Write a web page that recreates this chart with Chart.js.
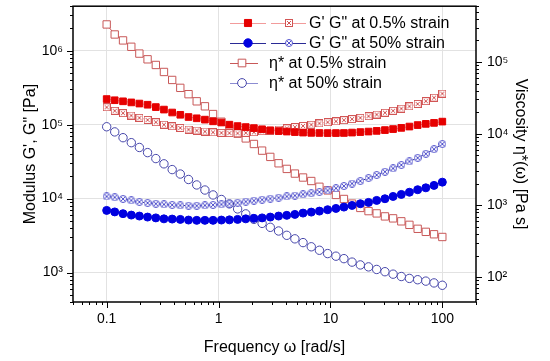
<!DOCTYPE html>
<html>
<head>
<meta charset="utf-8">
<script src="https://cdn.jsdelivr.net/npm/chart.js@4.4.0/dist/chart.umd.min.js"></script>
<style>
  html, body { margin: 0; padding: 0; background: #fff; }
  #wrap { width: 550px; height: 361px; }
</style>
</head>
<body>
<div id="wrap"><canvas id="chart" width="550" height="361"></canvas></div>
<script>
// frequency sweep, rad/s
const freq = [0.1, 0.118, 0.14, 0.166, 0.196, 0.232, 0.275, 0.325, 0.385, 0.455, 0.539, 0.638, 0.755, 0.893,
  1.06, 1.25, 1.48, 1.75, 2.07, 2.45, 2.9, 3.44, 4.07, 4.81, 5.69, 6.74, 7.97, 9.44,
  11.2, 13.2, 15.6, 18.5, 21.9, 25.9, 30.7, 36.3, 43, 50.8, 60.2, 71.2, 84.3, 100];

// G' and G" [Pa] at 0.5% strain
const gStorage05 = [2.22e5, 2.14e5, 2.07e5, 2.0e5, 1.93e5, 1.86e5, 1.73e5, 1.6e5, 1.46e5, 1.36e5, 1.27e5, 1.22e5, 1.17e5, 1.11e5,
  1.07e5, 1.0e5, 9.57e4, 9.28e4, 8.99e4, 8.67e4, 8.4e4, 8.19e4, 8.07e4, 7.94e4, 7.82e4, 7.75e4, 7.72e4, 7.7e4,
  7.7e4, 7.72e4, 7.82e4, 7.94e4, 8.07e4, 8.24e4, 8.45e4, 8.72e4, 9.05e4, 9.43e4, 9.88e4, 1.025e5, 1.057e5, 1.1e5];
const gLoss05 = [1.72e5, 1.54e5, 1.43e5, 1.33e5, 1.24e5, 1.16e5, 1.08e5, 1.0e5, 9.51e4, 9.05e4, 8.59e4, 8.33e4, 8.07e4, 7.87e4,
  7.75e4, 7.7e4, 7.65e4, 7.75e4, 7.89e4, 8.14e4, 8.33e4, 8.59e4, 8.94e4, 9.28e4, 9.63e4, 1.0e5, 1.04e5, 1.08e5,
  1.11e5, 1.15e5, 1.19e5, 1.24e5, 1.3e5, 1.37e5, 1.45e5, 1.54e5, 1.65e5, 1.77e5, 1.91e5, 2.08e5, 2.32e5, 2.63e5];

// G' and G" [Pa] at 50% strain
const gStorage50 = [6930, 6610, 6260, 5990, 5810, 5630, 5490, 5330, 5290, 5240, 5130, 5080, 5080, 5080,
  5130, 5160, 5240, 5330, 5410, 5490, 5630, 5810, 5940, 6120, 6370, 6570, 6780, 7080,
  7370, 7680, 8090, 8530, 8890, 9460, 9970, 10700, 11400, 12200, 13200, 14000, 15100, 16700];
const gLoss50 = [10700, 10400, 9910, 9460, 9030, 8750, 8530, 8350, 8220, 8090, 8020, 8020, 8090, 8220,
  8350, 8530, 8800, 9110, 9400, 9690, 10000, 10300, 10700, 11000, 11400, 11800, 12300, 12900,
  13800, 14800, 16000, 17300, 19000, 20900, 23100, 25600, 28500, 31800, 35600, 40400, 46600, 54700];

// complex viscosity [Pa s]
const eta05 = [3.34e5, 2.42e5, 2.0e5, 1.63e5, 1.31e5, 1.09e5, 9.09e4, 7.26e4, 5.62e4, 4.36e4, 3.56e4, 2.83e4, 2.41e4, 1.88e4,
  1.47e4, 1.17e4, 1.0e4, 8600, 7190, 5810, 4750, 3870, 3230, 2780, 2450, 2190, 1820, 1620,
  1400, 1230, 1060, 923, 833, 774, 703, 660, 600, 536, 472, 428, 396, 363];
const eta50 = [12500, 10600, 8800, 7500, 6430, 5450, 4500, 3800, 3160, 2740, 2300, 1930, 1640, 1400,
  1210, 1050, 894, 762, 639, 562, 495, 440, 383, 342, 303, 265, 237, 213,
  196, 181, 162, 148, 139, 128, 119, 110, 102, 96, 92, 88, 83, 77];

// axis ticks
const xTicks = [0.1, 1, 10, 100];
const xTickLabels = ["0.1", "1", "10", "100"];
const modTicks = [1e3, 1e4, 1e5, 1e6];
const modTickLabels = ["10³", "10⁴", "10⁵", "10⁶"];
const etaTicks = [1e2, 1e3, 1e4, 1e5];
const etaTickLabels = ["10²", "10³", "10⁴", "10⁵"];

const legendLabels = ["G' G\" at 0.5% strain", "G' G\" at 50% strain", "η* at 0.5% strain", "η* at 50% strain"];

const FONT = "'Liberation Sans', Arial, sans-serif";
const red = "#e60000", redX = "#d25555", pink = "#f29b9b", redOpen = "#c85858";
const blue = "#0000e0", blueX = "#5050cc", navy = "#2a2a96", blueOpen = "#4646aa", lightBlue = "#8c8cd2";

// square / circle with an X inside, white interior
function crossed(color, shape) {
  const c = document.createElement("canvas");
  c.width = 8; c.height = 8;
  const g = c.getContext("2d");
  g.strokeStyle = color;
  g.fillStyle = "#fff";
  g.lineWidth = 1;
  if (shape === "square") {
    g.fillRect(0.5, 0.5, 7, 7);
    g.strokeRect(0.5, 0.5, 7, 7);
  } else {
    g.beginPath(); g.arc(4, 4, 3.5, 0, Math.PI * 2); g.fill(); g.stroke();
  }
  g.beginPath();
  g.moveTo(2, 2); g.lineTo(6, 6);
  g.moveTo(6, 2); g.lineTo(2, 6);
  g.stroke();
  return c;
}
const xSquare = crossed(redX, "square");
const xCircle = crossed(blueX, "circle");

const pts = arr => freq.map((f, i) => ({ x: f, y: arr[i] }));

function series(data, axis, lineColor, style, radius, fill, stroke) {
  return {
    data: pts(data), yAxisID: axis,
    borderColor: lineColor, borderWidth: 1,
    pointStyle: style, pointRadius: radius,
    pointBackgroundColor: fill, pointBorderColor: stroke, pointBorderWidth: 1
  };
}

function logMarks(min, max) {
  const out = [];
  for (let e = Math.floor(Math.log10(min)); e <= Math.ceil(Math.log10(max)); e++) {
    for (let m = 1; m < 10; m++) {
      const v = m * Math.pow(10, e);
      if (v >= min * 0.999 && v <= max * 1.001) out.push({ v, major: m === 1 });
    }
  }
  return out;
}

// frame plus outward major/minor tick marks
const framePlugin = {
  id: "frame",
  afterDatasetsDraw(chart) {
    const { ctx, chartArea: a, scales } = chart;
    ctx.save();
    ctx.strokeStyle = "#000";
    ctx.lineWidth = 1;
    ctx.beginPath();
    logMarks(scales.x.min, scales.x.max).forEach(t => {
      const p = Math.round(scales.x.getPixelForValue(t.v)) + 0.5;
      ctx.moveTo(p, a.bottom); ctx.lineTo(p, a.bottom + (t.major ? 6 : 3));
    });
    logMarks(scales.y.min, scales.y.max).forEach(t => {
      const p = Math.round(scales.y.getPixelForValue(t.v)) + 0.5;
      ctx.moveTo(a.left, p); ctx.lineTo(a.left - (t.major ? 6 : 3), p);
    });
    logMarks(scales.y2.min, scales.y2.max).forEach(t => {
      const p = Math.round(scales.y2.getPixelForValue(t.v)) + 0.5;
      ctx.moveTo(a.right, p); ctx.lineTo(a.right + (t.major ? 6 : 3), p);
    });
    ctx.stroke();
    ctx.lineWidth = 1.5;
    ctx.strokeRect(a.left, a.top, a.right - a.left, a.bottom - a.top);
    ctx.restore();
  }
};

// legend drawn in the upper right corner
const legendPlugin = {
  id: "customLegend",
  afterDraw(chart) {
    const ctx = chart.ctx;
    const draw = (style, radius, fill, stroke, x, y) => {
      ctx.fillStyle = fill; ctx.strokeStyle = stroke; ctx.lineWidth = 1;
      Chart.helpers.drawPoint(ctx, { pointStyle: style, radius, borderWidth: 1, rotation: 0 }, x, y);
    };
    const line = (color, x1, x2, y) => {
      ctx.strokeStyle = color; ctx.lineWidth = 1;
      ctx.beginPath(); ctx.moveTo(x1, y + 0.5); ctx.lineTo(x2, y + 0.5); ctx.stroke();
    };
    ctx.save();
    ctx.font = "16px " + FONT;
    ctx.textBaseline = "middle";
    const rows = [23, 43, 63, 83];

    line(pink, 230, 266, rows[0]); line(pink, 271, 306, rows[0]);
    draw("rect", 5, red, red, 248, rows[0]);
    draw(xSquare, 5, "#fff", redX, 289, rows[0]);

    line(navy, 230, 266, rows[1]); line(navy, 271, 306, rows[1]);
    draw("circle", 4.2, blue, blue, 248, rows[1]);
    draw(xCircle, 5, "#fff", blueX, 289, rows[1]);

    line(redOpen, 230, 258, rows[2]);
    draw("rect", 5.4, "#fff", redOpen, 242, rows[2]);

    line(lightBlue, 230, 258, rows[3]);
    draw("circle", 4.4, "#fff", blueOpen, 242, rows[3]);

    ctx.fillStyle = "#000";
    ctx.fillText(legendLabels[0], 309, rows[0] + 1);
    ctx.fillText(legendLabels[1], 309, rows[1] + 1);
    ctx.fillText(legendLabels[2], 269, rows[2] + 1);
    ctx.fillText(legendLabels[3], 269, rows[3] + 1);
    ctx.restore();
  }
};

const tickFont = { family: FONT, size: 14 };
const titleFont = { family: FONT, size: 16 };
const noPadY = s => { s.paddingTop = 0; s.paddingBottom = 0; };

new Chart(document.getElementById("chart"), {
  type: "line",
  data: {
    datasets: [
      series(gStorage05, "y", pink, "rect", 4.7, red, red),
      series(gLoss05, "y", pink, xSquare, 5, "#fff", redX),
      series(gStorage50, "y", navy, "circle", 4, blue, blue),
      series(gLoss50, "y", navy, xCircle, 5, "#fff", blueX),
      series(eta05, "y2", redOpen, "rect", 5.2, "#fff", redOpen),
      series(eta50, "y2", lightBlue, "circle", 4.2, "#fff", blueOpen)
    ]
  },
  options: {
    responsive: false,
    animation: false,
    devicePixelRatio: 1,
    layout: { padding: { top: 5, left: 0, right: 0, bottom: 0 } },
    plugins: { legend: { display: false }, tooltip: { enabled: false } },
    scales: {
      x: {
        type: "logarithmic", position: "bottom", min: 0.05, max: 200,
        afterBuildTicks: s => { s.ticks = xTicks.map(v => ({ value: v })); },
        afterFit: s => { s.height = 59; s.paddingLeft = 0; s.paddingRight = 0; },
        ticks: { callback: (v, i) => xTickLabels[i], font: tickFont, color: "#000", padding: 9, maxRotation: 0, autoSkip: false },
        grid: { color: "#e2e2e2", drawTicks: false },
        border: { display: false },
        title: { display: true, text: "Frequency ω [rad/s]", font: titleFont, color: "#000", padding: { top: 0, bottom: 4 } }
      },
      y: {
        type: "logarithmic", position: "left", min: 400, max: 4e6,
        afterBuildTicks: s => { s.ticks = modTicks.map(v => ({ value: v })); },
        afterFit: s => { s.width = 73; noPadY(s); },
        ticks: { callback: (v, i) => modTickLabels[i], font: tickFont, color: "#000", padding: 10, autoSkip: false },
        grid: { color: "#e2e2e2", drawTicks: false },
        border: { display: false },
        title: { display: true, text: "Modulus G', G\" [Pa]", font: titleFont, color: "#000", padding: { top: 21, bottom: 0 } }
      },
      y2: {
        type: "logarithmic", position: "right", min: 45, max: 6e5,
        afterBuildTicks: s => { s.ticks = etaTicks.map(v => ({ value: v })); },
        afterFit: s => { s.width = 74; noPadY(s); },
        ticks: { callback: (v, i) => etaTickLabels[i], font: tickFont, color: "#000", padding: 11, autoSkip: false },
        grid: { drawOnChartArea: false, drawTicks: false },
        border: { display: false },
        title: { display: true, text: "Viscosity η*(ω) [Pa s]", font: titleFont, color: "#000", padding: { top: 20, bottom: 0 } }
      }
    }
  },
  plugins: [framePlugin, legendPlugin]
});
</script>
</body>
</html>
